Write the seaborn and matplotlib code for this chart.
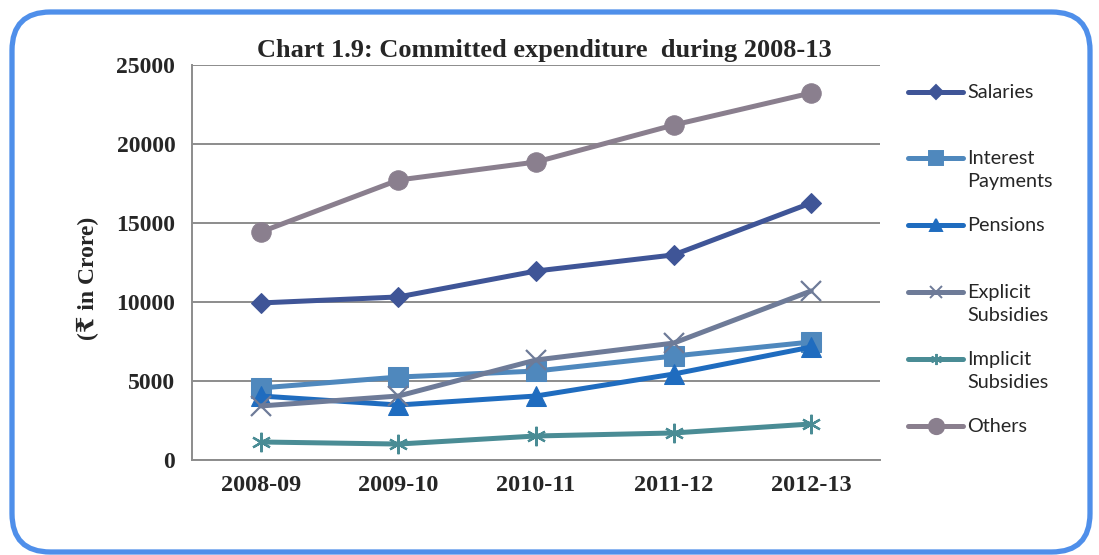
import numpy as np
import pandas as pd
import matplotlib
matplotlib.use("Agg")
import matplotlib.pyplot as plt
import seaborn as sns
from matplotlib.patches import FancyBboxPatch
from matplotlib.lines import Line2D

# ---------------------------------------------------------------------------
# Data (Rs in crore)
# ---------------------------------------------------------------------------
years = ["2008-09", "2009-10", "2010-11", "2011-12", "2012-13"]
salaries = [9940, 10320, 11960, 12980, 16270]
interest_payments = [4560, 5250, 5630, 6580, 7470]
pensions = [4050, 3480, 4050, 5440, 7150]
explicit_subsidies = [3420, 4050, 6330, 7400, 10700]
implicit_subsidies = [1140, 1010, 1520, 1710, 2280]
others = [14430, 17720, 18860, 21200, 23230]

series_names = ["Salaries", "Interest\nPayments", "Pensions",
                "Explicit\nSubsidies", "Implicit\nSubsidies", "Others"]
series_values = [salaries, interest_payments, pensions,
                 explicit_subsidies, implicit_subsidies, others]

colors = ["#3F5597", "#4F88BD", "#1F6CBF", "#6E7B98", "#4A8C95", "#8A7F8E"]
markers = ["D", "s", "^", "x", (6, 2, 0), "o"]
msizes = [10.5, 14, 14, 14, 14, 14]
legend_ms = [7, 10, 9, 8, 8, 11]

df = pd.DataFrame({"year": years})
for name, vals in zip(series_names, series_values):
    df[name] = vals

# ---------------------------------------------------------------------------
# Figure
# ---------------------------------------------------------------------------
sns.set_style("white")
W, H = 1099, 555
fig = plt.figure(figsize=(W / 100, H / 100), dpi=100)
fig.patch.set_facecolor("white")

# rounded blue frame
frame = FancyBboxPatch((12 / W, 3 / H), (1090 - 12) / W, (543 - 3) / H,
                       boxstyle="round,pad=0,rounding_size=0.035",
                       transform=fig.transFigure, facecolor="none",
                       edgecolor="#4F8FEA", linewidth=3.8, zorder=0,
                       mutation_aspect=W / H)
fig.add_artist(frame)

ax = fig.add_axes([192 / W, 1 - 460 / H, (880 - 192) / W, (460 - 65) / H])
ax.set_facecolor("none")

for name, vals, c, m, ms in zip(series_names, series_values, colors, markers, msizes):
    filled = m not in ("x",) and not isinstance(m, tuple)
    kw = dict(markerfacecolor=c, markeredgecolor=c)
    if not filled:
        kw["markeredgewidth"] = 1.6
    sns.lineplot(data=df, x="year", y=name, ax=ax, color=c, linewidth=3.6,
                 marker=m, markersize=ms, sort=False, legend=False, **kw)

ax.set_xlim(-0.5, 4.5)
ax.set_ylim(0, 25000)
ax.set_yticks(np.arange(0, 25001, 5000))
ax.set_xticks(range(len(years)))
ax.set_xticklabels(years)
ax.set_xlabel("")
ax.set_ylabel("")

serif = ["Liberation Serif", "DejaVu Serif"]
for lab in ax.get_xticklabels():
    lab.set_family(serif)
    lab.set_fontweight("bold")
    lab.set_fontsize(17.5)
for lab in ax.get_yticklabels():
    lab.set_family(serif)
    lab.set_fontweight("bold")
    lab.set_fontsize(17)

# gridlines and Excel-style category boundary ticks
ax.grid(axis="y", color="#8C8C8C", linewidth=1.4)
ax.set_axisbelow(True)
ax.tick_params(axis="x", length=0, pad=11)
ax.set_xticks(np.arange(-0.5, 4.6, 1), minor=True)
ax.tick_params(axis="x", which="minor", length=6, width=1.4, color="#8C8C8C",
               direction="out")
ax.tick_params(axis="y", length=7, width=1.4, color="#8C8C8C", direction="out", pad=5)
for s in ["top", "right"]:
    ax.spines[s].set_visible(False)
for s in ["left", "bottom"]:
    ax.spines[s].set_color("#8C8C8C")
    ax.spines[s].set_linewidth(1.4)

# titles
fig.text(544 / W, 1 - 51 / H, "Chart 1.9: Committed expenditure  during 2008-13",
         ha="center", va="center", fontsize=19, fontweight="bold", family=serif)
fig.text(88 / W, 1 - 278 / H, "(\u20b9 in Crore)", rotation=90, ha="center",
         va="center", fontsize=17, fontweight="bold",
         family=["Liberation Serif", "DejaVu Serif", "DejaVu Sans"])

# legend (Excel style, evenly spaced slots)
leg_y = [92, 158, 225, 292, 359, 426]
for name, c, m, ms, y in zip(series_names, colors, markers, legend_ms, leg_y):
    yf = 1 - y / H
    fig.add_artist(Line2D([908 / W, 963 / W], [yf, yf], transform=fig.transFigure,
                          color=c, linewidth=3.6, solid_capstyle="round"))
    fig.add_artist(Line2D([936 / W], [yf], transform=fig.transFigure, color=c,
                          marker=m, markersize=ms, markerfacecolor=c,
                          markeredgecolor=c, markeredgewidth=1.4))
    fig.text(967 / W, 1 - (y - 8) / H, name, ha="left", va="top", fontsize=14.3,
             family=["Lato", "DejaVu Sans"], linespacing=1.42)

fig.savefig("out.png", dpi=100, facecolor="white")
